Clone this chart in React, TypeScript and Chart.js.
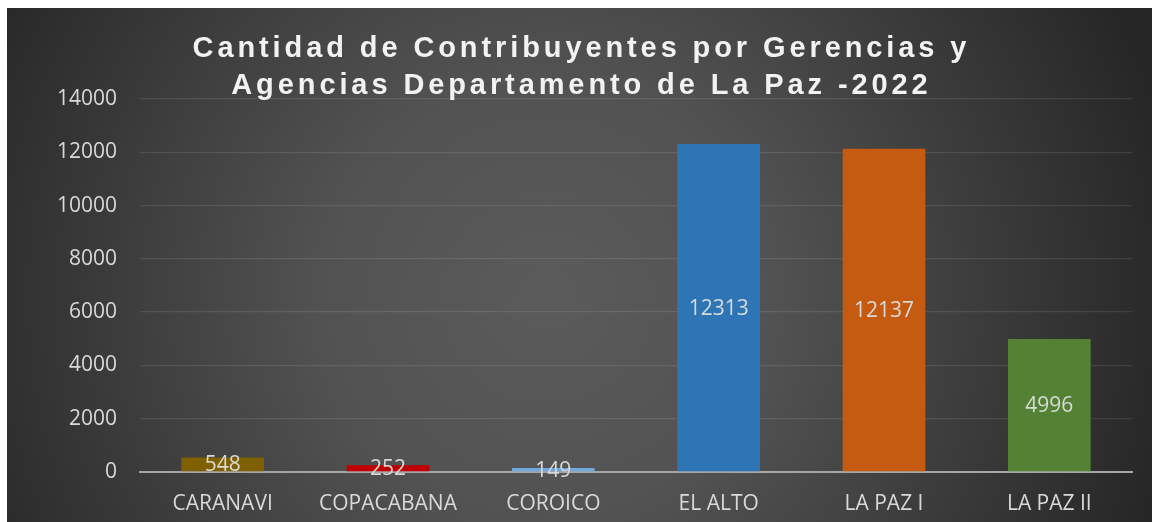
import React, { useEffect, useRef } from "react";
import { Chart, registerables } from "chart.js";

Chart.register(...registerables);

const categories = ["CARANAVI", "COPACABANA", "COROICO", "EL ALTO", "LA PAZ I", "LA PAZ II"];
const values = [548, 252, 149, 12313, 12137, 4996];
const barColors = ["#7f6000", "#c00000", "#6fa8dc", "#2e75b6", "#c55a11", "#548235"];
const titleLines = [
  "Cantidad de Contribuyentes por Gerencias y",
  "Agencias Departamento de La Paz -2022",
];
const yMin = 0;
const yMax = 14000;
const yStep = 2000;

const W = 1145;
const H = 514;

const bgPlugin = {
  id: "bgGradient",
  beforeDraw(chart: any) {
    const ctx = chart.ctx;
    ctx.save();
    const g = ctx.createRadialGradient(540, 290, 0, 540, 290, 640);
    g.addColorStop(0, "#5b5b5b");
    g.addColorStop(0.35, "#525252");
    g.addColorStop(1, "#262626");
    ctx.fillStyle = g;
    ctx.fillRect(0, 0, chart.width, chart.height);
    ctx.restore();
  },
};

const titlePlugin = {
  id: "spacedTitle",
  afterDraw(chart: any) {
    const ctx = chart.ctx;
    ctx.save();
    ctx.font = "bold 29px 'Liberation Sans', Arial, sans-serif";
    const spacing = 3.9;
    (ctx as any).letterSpacing = spacing + "px";
    ctx.fillStyle = "#f2f2f2";
    ctx.textAlign = "left";
    ctx.textBaseline = "alphabetic";
    const cx = chart.width / 2;
    const baselines = [49, 86];
    titleLines.forEach((line, i) => {
      const w = ctx.measureText(line).width - spacing;
      ctx.fillText(line, cx - w / 2, baselines[i]);
    });
    ctx.restore();
  },
};

const valueLabelPlugin = {
  id: "valueLabels",
  afterDatasetsDraw(chart: any) {
    const ctx = chart.ctx;
    ctx.save();
    ctx.font = "21px 'Open Sans', sans-serif";
    ctx.fillStyle = "#d9d9d9";
    ctx.textAlign = "center";
    ctx.textBaseline = "middle";
    const meta = chart.getDatasetMeta(0);
    meta.data.forEach((el: any, i: number) => {
      const v = chart.data.datasets[0].data[i];
      const y = (el.y + el.base) / 2;
      ctx.fillText(String(v), el.x, y + 1);
    });
    ctx.restore();
  },
};

export default function App() {
  const ref = useRef<HTMLCanvasElement | null>(null);
  useEffect(() => {
    if (!ref.current) return;
    const chart = new Chart(ref.current, {
      type: "bar",
      data: {
        labels: categories,
        datasets: [
          {
            data: values,
            backgroundColor: barColors,
            borderWidth: 0,
            barPercentage: 0.5,
            categoryPercentage: 1,
          },
        ],
      },
      options: {
        responsive: false,
        animation: false,
        layout: { padding: { top: 91, right: 20, bottom: 0, left: 0 } },
        plugins: {
          legend: { display: false },
          title: { display: false },
          tooltip: { enabled: false },
        },
        scales: {
          x: {
            z: 1,
            grid: { display: false, drawTicks: false },
            border: { display: true, color: "#a6a6a6", width: 2 },
            ticks: {
              color: "#d9d9d9",
              font: { family: "'Open Sans', sans-serif", size: 21 },
              padding: 19,
              maxRotation: 0,
              autoSkip: false,
            },
            afterFit(scale: any) {
              scale.height = 50;
            },
          },
          y: {
            min: yMin,
            max: yMax,
            grid: { color: "rgba(255,255,255,0.1)", lineWidth: 1.3, drawTicks: false },
            border: { display: false },
            ticks: {
              stepSize: yStep,
              color: "#d9d9d9",
              font: { family: "'Open Sans', sans-serif", size: 21 },
              padding: 23,
              callback: (v: any) => String(v),
            },
            afterFit(scale: any) {
              scale.width = 133;
            },
          },
        },
      },
      plugins: [bgPlugin, titlePlugin, valueLabelPlugin],
    });
    return () => chart.destroy();
  }, []);
  return (
    <div style={{ position: "absolute", left: 7, top: 8, width: W, height: H }}>
      <canvas ref={ref} width={W} height={H} style={{ display: "block" }} />
    </div>
  );
}
